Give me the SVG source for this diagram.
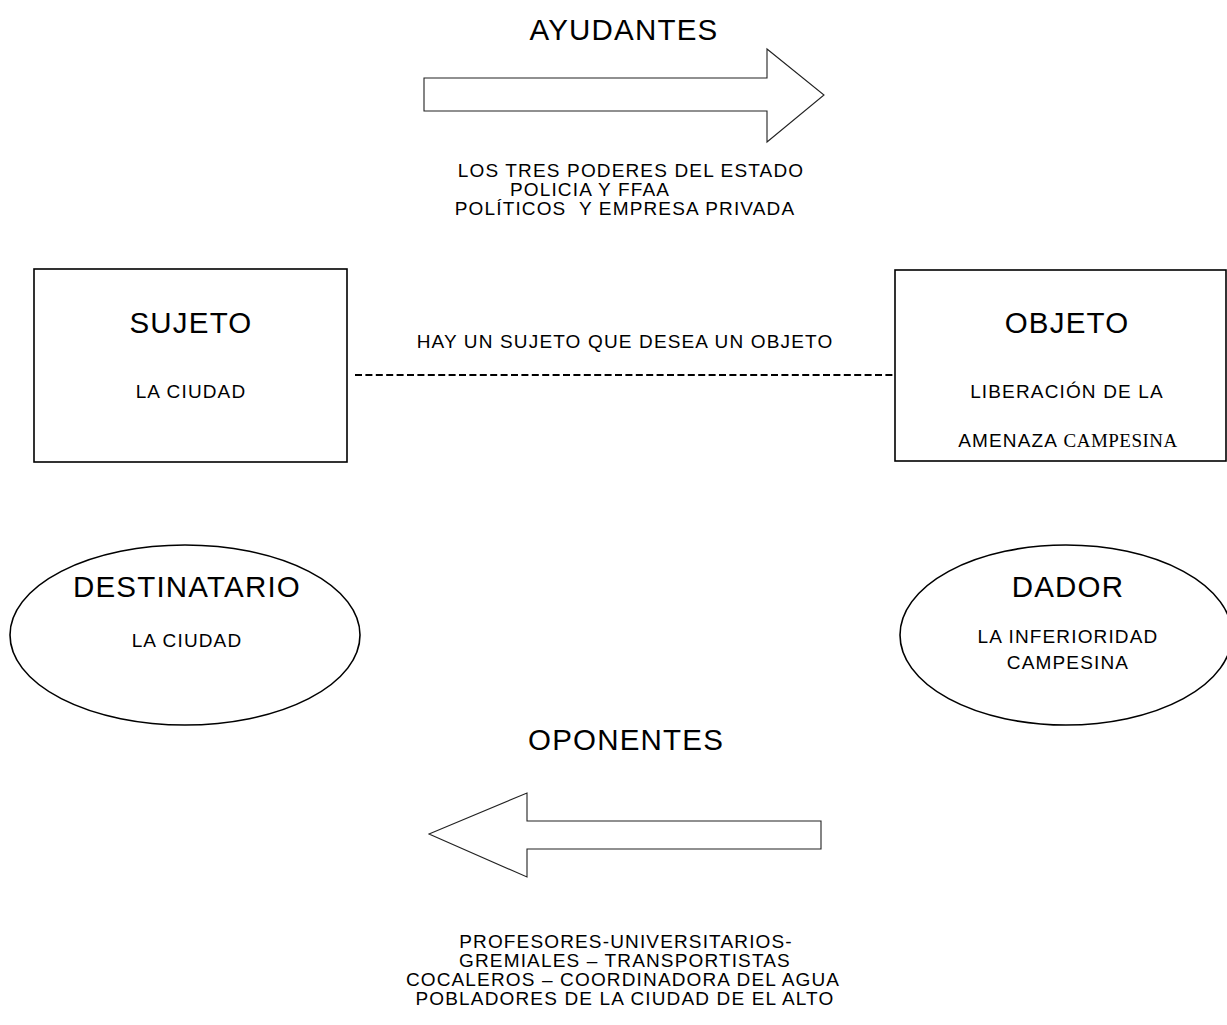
<svg xmlns="http://www.w3.org/2000/svg" width="1227" height="1025" viewBox="0 0 1227 1025">
<style>
text{font-family:"Liberation Sans",Arial,sans-serif;fill:#000;text-anchor:middle}
.big{font-size:29.5px;letter-spacing:1.2px}
.sm{font-size:19px;letter-spacing:1.15px}
.serif{font-family:"Liberation Serif","Times New Roman",serif;letter-spacing:0.5px}
.box{fill:#fff;stroke:#000;stroke-width:1.6}
.arrow{fill:#fff;stroke:#222;stroke-width:1.1;stroke-linejoin:miter}
.dash{stroke:#000;stroke-width:2;stroke-dasharray:7 3.4;fill:none}
</style>
<rect width="1227" height="1025" fill="#fff"/>
<g id="connectors">
<line class="dash" x1="355" y1="375" x2="893" y2="375"/>
<polygon class="arrow" points="424,78 767,78 767,49 824,95 767,142 767,111 424,111"/>
<polygon class="arrow" points="821,821 527,821 527,793 429,834 527,877 527,849 821,849"/>
</g>
<g id="ayudantes">
<text class="big" x="624" y="40">AYUDANTES</text>
<text class="sm" x="631" y="177">LOS TRES PODERES DEL ESTADO</text>
<text class="sm" x="590" y="196">POLICIA Y FFAA</text>
<text class="sm" x="625" y="215" xml:space="preserve">POLÍTICOS  Y EMPRESA PRIVADA</text>
</g>
<g id="sujeto">
<rect class="box" x="34" y="269" width="313" height="193"/>
<text class="big" x="191" y="333">SUJETO</text>
<text class="sm" x="191" y="398">LA CIUDAD</text>
</g>
<g id="relacion">
<text class="sm" x="625" y="348">HAY UN SUJETO QUE DESEA UN OBJETO</text>
</g>
<g id="objeto">
<rect class="box" x="895" y="270" width="331" height="191"/>
<text class="big" x="1067" y="333">OBJETO</text>
<text class="sm" x="1067" y="398">LIBERACIÓN DE LA</text>
<text class="sm" x="1068" y="447">AMENAZA <tspan class="serif">CAMPESINA</tspan></text>
</g>
<g id="destinatario">
<ellipse class="box" cx="185" cy="635" rx="175" ry="90"/>
<text class="big" x="187" y="597">DESTINATARIO</text>
<text class="sm" x="187" y="647">LA CIUDAD</text>
</g>
<g id="dador">
<ellipse class="box" cx="1066" cy="635" rx="166" ry="90"/>
<text class="big" x="1068" y="597">DADOR</text>
<text class="sm" x="1068" y="643">LA INFERIORIDAD</text>
<text class="sm" x="1068" y="669">CAMPESINA</text>
</g>
<g id="oponentes">
<text class="big" x="626" y="750">OPONENTES</text>
<text class="sm" x="626" y="948">PROFESORES-UNIVERSITARIOS-</text>
<text class="sm" x="625" y="967">GREMIALES – TRANSPORTISTAS</text>
<text class="sm" x="623" y="986">COCALEROS – COORDINADORA DEL AGUA</text>
<text class="sm" x="625" y="1005">POBLADORES DE LA CIUDAD DE EL ALTO</text>
</g>
</svg>
